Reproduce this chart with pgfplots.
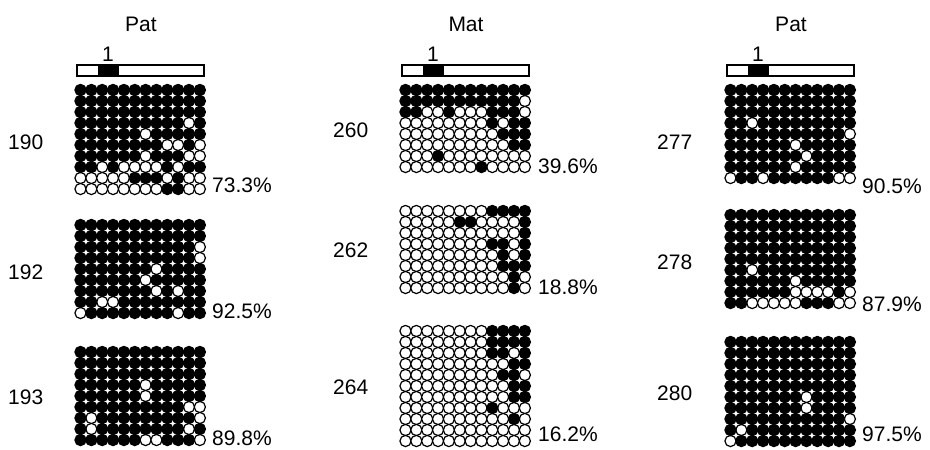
\documentclass[border=0pt]{standalone}
\usepackage{pgfplots}
\usepackage{pgfplotstable}
\pgfplotsset{compat=1.18}
\usepackage{fontspec}
\setmainfont{Liberation Sans}

% 1 = methylated (filled), 0 = unmethylated (open)
\pgfplotstableread{
r c1 c2 c3 c4 c5 c6 c7 c8 c9 c10 c11 c12
1  1 1 1 1 1 1 1 1 1 1 1 1
2  1 1 1 1 1 1 1 1 1 1 1 1
3  1 1 1 1 1 1 1 1 1 1 1 1
4  1 1 1 1 1 1 1 1 1 1 0 1
5  1 1 1 1 1 1 0 1 1 1 1 1
6  1 1 1 1 1 1 1 1 0 0 1 0
7  1 1 1 1 1 1 0 1 1 1 0 0
8  1 1 0 1 0 0 0 0 1 0 1 1
9  0 0 0 0 0 1 1 1 0 1 0 0
10 0 0 0 0 0 0 0 0 1 1 0 0
}\gA
\pgfplotstableread{
r c1 c2 c3 c4 c5 c6 c7 c8 c9 c10 c11 c12
1  1 1 1 1 1 1 1 1 1 1 1 1
2  1 1 1 1 1 1 1 1 1 1 1 1
3  1 1 1 1 1 1 1 1 1 1 1 0
4  1 1 1 1 1 1 1 1 1 1 1 0
5  1 1 1 1 1 1 1 0 1 1 1 1
6  1 1 1 1 1 1 0 1 1 1 1 1
7  1 1 1 1 1 1 1 0 1 0 1 1
8  1 1 0 0 1 1 1 1 1 1 1 1
9  0 1 1 1 1 1 1 1 1 0 1 1
}\gB
\pgfplotstableread{
r c1 c2 c3 c4 c5 c6 c7 c8 c9 c10 c11 c12
1  1 1 1 1 1 1 1 1 1 1 1 1
2  1 1 1 1 1 1 1 1 1 1 1 1
3  1 1 1 1 1 1 1 1 1 1 1 1
4  1 1 1 1 1 1 0 1 1 1 1 1
5  1 1 1 1 1 1 0 1 1 1 1 1
6  1 1 1 1 1 1 1 1 1 1 0 0
7  1 0 1 1 1 1 1 1 1 1 1 0
8  1 0 1 1 1 1 1 1 1 1 0 1
9  1 1 1 1 1 1 0 0 1 1 1 0
}\gC
\pgfplotstableread{
r c1 c2 c3 c4 c5 c6 c7 c8 c9 c10 c11 c12
1  1 1 1 1 1 1 1 1 1 1 1 1
2  1 1 1 1 1 1 1 1 1 1 1 0
3  1 1 0 0 1 0 0 0 1 1 1 0
4  0 0 0 0 0 0 0 0 1 0 1 1
5  0 0 0 0 0 0 0 0 0 1 1 1
6  0 0 0 0 0 0 0 0 0 0 1 1
7  0 0 0 1 0 0 0 0 0 0 0 0
8  0 0 0 0 0 0 0 1 0 0 0 0
}\gD
\pgfplotstableread{
r c1 c2 c3 c4 c5 c6 c7 c8 c9 c10 c11 c12
1  0 0 0 0 0 0 0 0 1 1 1 1
2  0 0 0 0 0 1 1 0 0 0 0 1
3  0 0 0 0 0 0 0 0 0 0 0 1
4  0 0 0 0 0 0 0 0 1 1 0 1
5  0 0 0 0 0 0 0 0 0 1 0 1
6  0 0 0 0 0 0 0 0 0 1 1 1
7  0 0 0 0 0 0 0 0 0 0 1 0
8  0 0 0 0 0 0 0 0 0 0 1 0
}\gE
\pgfplotstableread{
r c1 c2 c3 c4 c5 c6 c7 c8 c9 c10 c11 c12
1  0 0 0 0 0 0 0 0 1 1 1 1
2  0 0 0 0 0 0 0 0 1 1 1 1
3  0 0 0 0 0 0 0 0 1 1 0 1
4  0 0 0 0 0 0 0 0 0 0 1 1
5  0 0 0 0 0 0 0 0 0 1 1 0
6  0 0 0 0 0 0 0 0 0 0 1 1
7  0 0 0 0 0 0 0 0 0 0 1 1
8  0 0 0 0 0 0 0 0 1 0 0 0
9  0 0 0 0 0 0 0 0 0 0 1 0
10 0 0 0 0 0 0 0 0 0 0 0 0
11 0 0 0 0 0 0 0 0 0 0 0 0
}\gF
\pgfplotstableread{
r c1 c2 c3 c4 c5 c6 c7 c8 c9 c10 c11 c12
1  1 1 1 1 1 1 1 1 1 1 1 1
2  1 1 1 1 1 1 1 1 1 1 1 1
3  1 1 1 1 1 1 1 1 1 1 1 1
4  1 1 0 1 1 1 1 1 1 1 1 1
5  1 1 1 1 1 1 1 1 1 1 1 0
6  1 1 1 1 1 1 0 1 1 1 1 1
7  1 1 1 1 1 1 1 0 1 1 1 1
8  1 1 1 1 1 1 0 1 1 1 1 1
9  0 1 1 0 1 1 1 1 1 1 0 0
}\gG
\pgfplotstableread{
r c1 c2 c3 c4 c5 c6 c7 c8 c9 c10 c11 c12
1  1 1 1 1 1 1 1 1 1 1 1 1
2  1 1 1 1 1 1 1 1 1 1 1 1
3  1 1 1 1 1 1 1 1 1 1 1 1
4  1 1 1 1 1 1 1 1 1 1 1 1
5  1 1 1 1 1 1 1 1 1 1 1 1
6  1 1 0 1 1 1 1 1 1 1 1 1
7  1 1 1 1 1 1 0 1 1 1 1 1
8  1 1 1 1 1 1 0 0 0 0 1 0
9  1 1 0 0 0 0 0 1 1 1 0 0
}\gH
\pgfplotstableread{
r c1 c2 c3 c4 c5 c6 c7 c8 c9 c10 c11 c12
1  1 1 1 1 1 1 1 1 1 1 1 1
2  1 1 1 1 1 1 1 1 1 1 1 1
3  1 1 1 1 1 1 1 1 1 1 1 1
4  1 1 1 1 1 1 1 1 1 1 1 1
5  1 1 1 1 1 1 1 1 1 1 1 1
6  1 1 1 1 1 1 1 0 1 1 1 1
7  1 1 1 1 1 1 1 0 1 1 1 1
8  1 1 1 1 1 1 1 1 1 1 1 0
9  1 0 1 1 1 1 1 1 1 1 1 1
10 0 1 1 1 1 1 1 1 1 1 1 1
}\gI

\pgfplotsset{
  circ/.style={only marks, mark=*, mark size=5.6pt,
    mark options={draw=black, line width=1.2pt, fill=#1}},
}
\tikzset{lbl/.style={font=\fontsize{21}{25}\selectfont, inner sep=0pt, text depth=0pt}}
% #1 table, #2 x of first column, #3 y of first row
\newcommand\plotgrid[3]{%
  \pgfplotsinvokeforeach{1,...,12}{%
    \addplot[circ=white, restrict expr to domain={\thisrow{c##1}}{-0.5:0.5}]
      table[x expr={#2+10.85*(##1-1)}, y expr={#3+11*(\thisrow{r}-1)}] {#1};
  }%
  \pgfplotsinvokeforeach{1,...,12}{%
    \addplot[circ=black, restrict expr to domain={\thisrow{c##1}}{0.5:1.5}]
      table[x expr={#2+10.85*(##1-1)}, y expr={#3+11*(\thisrow{r}-1)}] {#1};
  }%
}
\newcommand\genebar[1]{%
  \draw[line width=1.3pt, fill=white] (axis cs:#1+77,65) rectangle (axis cs:#1+204,76);
  \fill[black] (axis cs:#1+98,65) rectangle (axis cs:#1+119,76);
  \node[font=\fontsize{21}{23}\selectfont, inner sep=0pt] at (axis cs:#1+108,54) {1};
}

\begin{document}
\begin{tikzpicture}
\begin{axis}[
  width=930pt, height=450pt, scale only axis,
  xmin=0, xmax=930, ymin=0, ymax=450, y dir=reverse,
  hide axis, clip=false,
]
\plotgrid{\gA}{80.5}{90}
\plotgrid{\gB}{80.5}{225}
\plotgrid{\gC}{80.5}{352}
\plotgrid{\gD}{405.5}{90}
\plotgrid{\gE}{405.5}{211}
\plotgrid{\gF}{405.5}{331}
\plotgrid{\gG}{730.5}{90}
\plotgrid{\gH}{730.5}{215}
\plotgrid{\gI}{730.5}{342}

\genebar{0}
\genebar{325}
\genebar{650}

\node[lbl] at (axis cs:141,24) {Pat};
\node[lbl] at (axis cs:466,24) {Mat};
\node[lbl] at (axis cs:791,24) {Pat};

\node[lbl, anchor=west] at (axis cs:8,142) {190};
\node[lbl, anchor=west] at (axis cs:8,272) {192};
\node[lbl, anchor=west] at (axis cs:8,397) {193};
\node[lbl, anchor=west] at (axis cs:333,130) {260};
\node[lbl, anchor=west] at (axis cs:333,250) {262};
\node[lbl, anchor=west] at (axis cs:333,387) {264};
\node[lbl, anchor=west] at (axis cs:657,142) {277};
\node[lbl, anchor=west] at (axis cs:657,262) {278};
\node[lbl, anchor=west] at (axis cs:657,393) {280};

\node[lbl, anchor=west] at (axis cs:212,185) {73.3\%};
\node[lbl, anchor=west] at (axis cs:212,311) {92.5\%};
\node[lbl, anchor=west] at (axis cs:212,438) {89.8\%};
\node[lbl, anchor=west] at (axis cs:538,166) {39.6\%};
\node[lbl, anchor=west] at (axis cs:538,287) {18.8\%};
\node[lbl, anchor=west] at (axis cs:538,434) {16.2\%};
\node[lbl, anchor=west] at (axis cs:862,186) {90.5\%};
\node[lbl, anchor=west] at (axis cs:862,304) {87.9\%};
\node[lbl, anchor=west] at (axis cs:862,434) {97.5\%};
\end{axis}
\pgfresetboundingbox
\path (0,0) rectangle (930pt,450pt);
\end{tikzpicture}
\end{document}
